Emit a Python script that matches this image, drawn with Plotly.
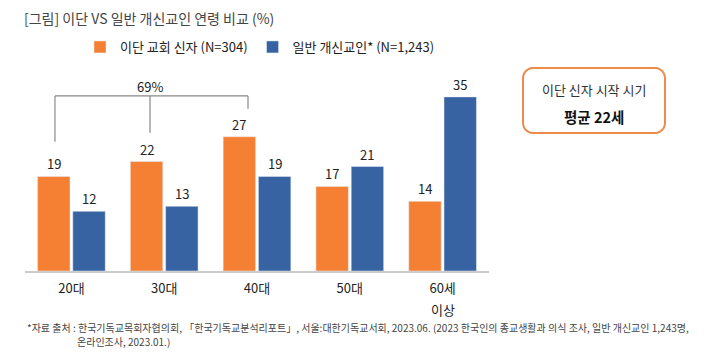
import math
import plotly.graph_objects as go

categories = ["20대", "30대", "40대", "50대", "60세 이상"]
tick_labels = ["20대", "30대", "40대", "50대", "60세"]
tick_second_line = "이상"
cult_label = "이단 교회 신자 (N=304)"
general_label = "일반 개신교인* (N=1,243)"
cult_values = [19, 22, 27, 17, 14]
general_values = [12, 13, 19, 21, 35]
bracket_label = "69%"
box_title = "이단 신자 시작 시기"
box_value = "평균 22세"
title_text = "[그림] 이단 VS 일반 개신교인 연령 비교 (%)"
source_line1 = ("*자료 출처 : 한국기독교목회자협의회, 「한국기독교분석리포트」, 서울:대한기독교서회, 2023.06. "
                "(2023 한국인의 종교생활과 의식 조사, 일반 개신교인 1,243명,")
source_line2 = "온라인조사, 2023.01.)"

ORANGE = "#F58033"
BLUE = "#3763A3"
FONT = "Noto Sans CJK KR"

# page body has an 8px default margin; layout numbers below are screen pixels
OFF = 8
W, H = 720, 361
ML, MT = 25 - OFF, 72 - OFF
MR = W - (489 - OFF)
MB = H - (271 - OFF)
PW = W - ML - MR
PH = H - MT - MB

def px(x):
    return (x - OFF - ML) / PW

def py(y):
    return (H - MB - (y - OFF)) / PH

fig = go.Figure()
fig.add_trace(go.Bar(x=categories, y=cult_values, name=cult_label, marker_color=ORANGE))
fig.add_trace(go.Bar(x=categories, y=general_values, name=general_label, marker_color=BLUE))

annotations = []
slot = 0.19
for i, (a, b) in enumerate(zip(cult_values, general_values)):
    annotations.append(dict(x=i - slot, y=a, xref="x", yref="y", text=str(a), showarrow=False,
                            yanchor="bottom", yshift=1, font=dict(size=13, color="#222")))
    annotations.append(dict(x=i + slot, y=b, xref="x", yref="y", text=str(b), showarrow=False,
                            yanchor="bottom", yshift=1, font=dict(size=13, color="#222")))

annotations.append(dict(x=categories[-1], y=py(309), xref="x", yref="paper", text=tick_second_line,
                        showarrow=False, xanchor="center", yanchor="middle",
                        font=dict(size=13, color="#222")))

# bracket
shapes = []
line = dict(color="#888", width=1.2)
bx = [-0.177, 1 - 0.153, 2 - 0.097]
btop = 35.2
bbot = [26.0, 27.8, 32.6]
shapes.append(dict(type="line", xref="x", yref="y", x0=bx[0], x1=bx[2], y0=btop, y1=btop, line=line))
for xx, yb in zip(bx, bbot):
    shapes.append(dict(type="line", xref="x", yref="y", x0=xx, x1=xx, y0=btop, y1=yb, line=line))
annotations.append(dict(x=bx[1], y=btop, xref="x", yref="y", text=bracket_label, showarrow=False,
                        yanchor="bottom", yshift=-2, font=dict(size=13, color="#222")))

# rounded box (corners approximated by short line segments)
bx0, bx1, by0, by1, r = 523, 665, 68, 133, 10
pts = []
corners = [(bx1 - r, by0 + r, -90, 0), (bx1 - r, by1 - r, 0, 90),
           (bx0 + r, by1 - r, 90, 180), (bx0 + r, by0 + r, 180, 270)]
for cx, cy, a0, a1 in corners:
    for k in range(7):
        ang = math.radians(a0 + (a1 - a0) * k / 6)
        pts.append((px(cx + r * math.cos(ang)), py(cy + r * math.sin(ang))))
path = "M " + " L ".join(f"{x:.5f} {y:.5f}" for x, y in pts) + " Z"
shapes.append(dict(type="path", xref="paper", yref="paper", path=path,
                   line=dict(color="#EE8A4A", width=2), fillcolor="white"))
annotations.append(dict(x=px(594), y=py(89), xref="paper", yref="paper", text=box_title, showarrow=False,
                        xanchor="center", yanchor="middle", font=dict(size=13, color="#333")))
annotations.append(dict(x=px(594), y=py(116), xref="paper", yref="paper", text=f"<b>{box_value}</b>",
                        showarrow=False, xanchor="center", yanchor="middle",
                        font=dict(size=14.5, color="#111")))

# source
annotations.append(dict(x=px(25), y=py(327), xref="paper", yref="paper", text=source_line1, showarrow=False,
                        xanchor="left", yanchor="middle", font=dict(size=10, color="#444")))
annotations.append(dict(x=px(75), y=py(341), xref="paper", yref="paper", text=source_line2, showarrow=False,
                        xanchor="left", yanchor="middle", font=dict(size=10, color="#444")))

fig.update_layout(
    width=W, height=H,
    margin=dict(l=ML, r=MR, t=MT, b=MB, autoexpand=False),
    paper_bgcolor="white", plot_bgcolor="white",
    font=dict(family=FONT, color="#222", size=13),
    title=dict(text=title_text, x=(24 - OFF) / W, xanchor="left", y=1, yanchor="top",
               pad=dict(t=6), font=dict(size=14, color="#444")),
    barmode="group", bargap=0.24, bargroupgap=0.08,
    legend=dict(orientation="h", x=px(80), xanchor="left", y=py(47), yanchor="middle",
                font=dict(size=13, color="#222"), traceorder="normal"),
    xaxis=dict(showline=True, linecolor="#CCCCCC", linewidth=1.5, ticks="",
               tickmode="array", tickvals=categories, ticktext=tick_labels,
               ticklabelstandoff=5,
               tickfont=dict(size=13, color="#222"), showgrid=False, automargin=False),
    yaxis=dict(range=[0, 40], visible=False, showgrid=False, automargin=False),
    shapes=shapes, annotations=annotations,
    showlegend=True,
)

fig.write_html("out.html")
